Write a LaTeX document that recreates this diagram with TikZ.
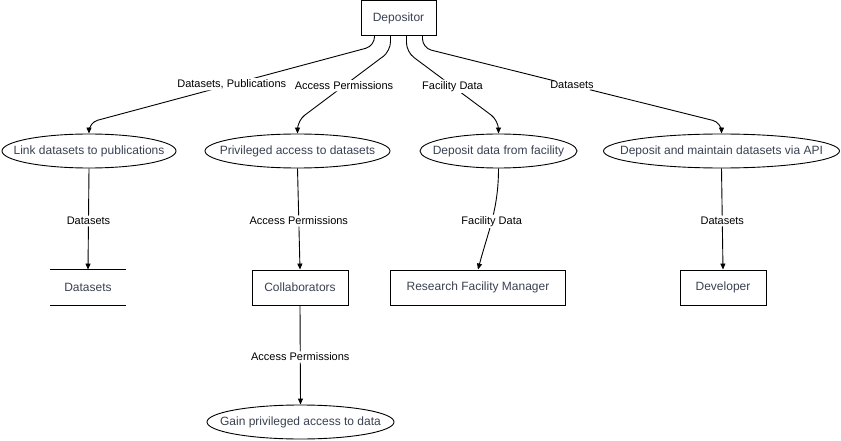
\documentclass[tikz,border=0pt]{standalone}
\usepackage{fontspec}
\setmainfont{Liberation Sans}
\usepackage{xcolor}
\usepackage{tikz}
\usetikzlibrary{shapes.geometric,arrows.meta}
\definecolor{nodetext}{HTML}{394150}

\begin{document}
\begin{tikzpicture}[x=1pt, y=1pt, line width=0.9pt,
    ent/.style={draw, rectangle, minimum height=35pt, text=nodetext, font=\fontsize{12}{14}\selectfont},
    proc/.style={draw, ellipse, minimum height=34pt, text=nodetext, font=\fontsize{12}{14}\selectfont},
    lbl/.style={fill=white, inner sep=1.5pt, font=\fontsize{11}{13}\selectfont},
    flow/.style={-{Triangle[length=6pt,width=5pt]}, rounded corners=9pt}]
    \useasboundingbox (0,0) rectangle (841,-441);

    % entities
    \node[ent, minimum width=75pt] (dep) at (398.5,-18) {Depositor};
    \node[minimum width=75pt, minimum height=35pt, font=\fontsize{12}{14}\selectfont, text=nodetext] (ds) at (88,-287.5) {Datasets};
    \draw (ds.north west) -- (ds.north east) (ds.south west) -- (ds.south east);
    \node[ent, minimum width=96pt] (collab) at (300,-287.5) {Collaborators};
    \node[ent, minimum width=175pt] (rfm) at (478,-287.5) {Research Facility Manager};
    \node[ent, minimum width=86pt] (dev) at (723,-287.5) {Developer};

    % processes
    \node[proc, minimum width=174pt] (link) at (89,-151) {\makebox[0pt]{Link datasets to publications}};
    \node[proc, minimum width=185pt] (priv) at (297.5,-151) {\makebox[0pt]{Privileged access to datasets}};
    \node[proc, minimum width=157pt] (fac) at (498.5,-151) {\makebox[0pt]{Deposit data from facility}};
    \node[proc, minimum width=236pt] (api) at (721.5,-151) {\makebox[0pt]{Deposit and maintain datasets via API}};
    \node[proc, minimum width=187pt] (gain) at (300.5,-422) {\makebox[0pt]{Gain privileged access to data}};

    % flows from the depositor
    \draw[flow] ([xshift=-24pt]dep.south) -- ++(0,-10) -- ([yshift=11pt]link.north) node[lbl, pos=.5] {Datasets, Publications} -- (link.north);
    \draw[flow] ([xshift=-8pt]dep.south) -- ++(0,-15) -- ([yshift=13pt]priv.north) node[lbl, pos=.5] {Access Permissions} -- (priv.north);
    \draw[flow] ([xshift=8pt]dep.south) -- ++(0,-16) -- ([yshift=13pt]fac.north) node[lbl, pos=.5] {Facility Data} -- (fac.north);
    \draw[flow] ([xshift=24pt]dep.south) -- ++(0,-12) -- ([yshift=11pt]api.north) node[lbl, pos=.5] {Datasets} -- (api.north);

    % flows down
    \draw[flow] (link.south) -- (ds.north) node[lbl, pos=.52] {Datasets};
    \draw[flow] (priv.south) -- (collab.north) node[lbl, pos=.52] {Access Permissions};
    \draw[flow] (fac.south) to[out=-90, in=75] node[lbl, pos=.52] {Facility Data} (rfm.north);
    \draw[flow] (api.south) -- (dev.north) node[lbl, pos=.52] {Datasets};
    \draw[flow] (collab.south) -- (gain.north) node[lbl, pos=.52] {Access Permissions};
\end{tikzpicture}
\end{document}
